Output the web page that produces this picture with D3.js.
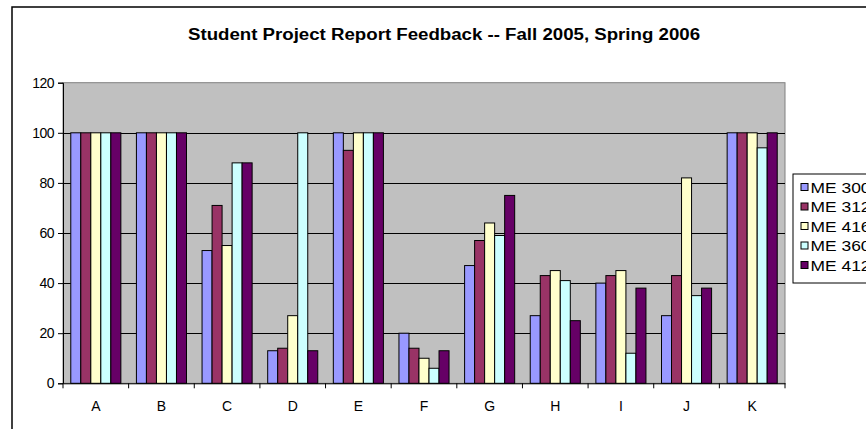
<!DOCTYPE html>
<html>
<head>
<meta charset="utf-8">
<script src="https://cdn.jsdelivr.net/npm/d3@7"></script>
<style>
html,body{margin:0;padding:0;background:#fff;overflow:hidden;}
svg{display:block;font-family:"Liberation Sans",Arial,sans-serif;}
</style>
</head>
<body>
<svg id="chart" width="866" height="429"></svg>
<script>
const categories = ["A","B","C","D","E","F","G","H","I","J","K"];
const seriesNames = ["ME 300","ME 312","ME 416","ME 360","ME 412"];
const me300 = [100,100,53,13,100,20,47,27,40,27,100];
const me312 = [100,100,71,14,93,14,57,43,43,43,100];
const me416 = [100,100,55,27,100,10,64,45,45,82,100];
const me360 = [100,100,88,100,100,6,59,41,12,35,94];
const me412 = [100,100,88,13,100,13,75,25,38,38,100];
const colors = ["#9999FF","#993366","#FFFFCC","#CCFFFF","#660066"];
const yTicks = [0,20,40,60,80,100,120];
const title = "Student Project Report Feedback -- Fall 2005, Spring 2006";

const seriesValues = [me300, me312, me416, me360, me412];

const svg = d3.select("#chart");
const plot = {left:63, right:785, top:82.7, bottom:383.3};

// outer chart frame
svg.append("rect").attr("x",12).attr("y",7).attr("width",900).attr("height",460)
  .attr("fill","#fff").attr("stroke","#000").attr("stroke-width",1.5);

const x = d3.scaleBand().domain(categories).range([plot.left, plot.right]).paddingInner(0.237).paddingOuter(0.1185);
const xs = d3.scaleBand().domain(seriesNames).range([0, x.bandwidth()]);
const y = d3.scaleLinear().domain([0,120]).range([plot.bottom, plot.top]);

// plot area
svg.append("rect").attr("x",plot.left).attr("y",plot.top)
  .attr("width",plot.right-plot.left).attr("height",plot.bottom-plot.top)
  .attr("fill","#C0C0C0").attr("stroke","#808080").attr("stroke-width",1);

// gridlines
svg.append("g").selectAll("line").data(yTicks.filter(d=>d>0 && d<120)).join("line")
  .attr("x1",plot.left).attr("x2",plot.right)
  .attr("y1",d=>Math.round(y(d))+0.5).attr("y2",d=>Math.round(y(d))+0.5)
  .attr("stroke","#000").attr("stroke-width",1);

// bars
const groups = svg.append("g").selectAll("g").data(seriesNames).join("g")
  .attr("fill",(d,i)=>colors[i]);
groups.each(function(name, si){
  d3.select(this).selectAll("rect").data(categories).join("rect")
    .attr("x",c=>x(c)+xs(name))
    .attr("y",(c,ci)=>y(seriesValues[si][ci]))
    .attr("width",xs.bandwidth())
    .attr("height",(c,ci)=>plot.bottom-y(seriesValues[si][ci]))
    .attr("stroke","#000").attr("stroke-width",1);
});

// y axis
const yAxis = d3.axisLeft(y).tickValues(yTicks).tickSize(5).tickPadding(4);
const gy = svg.append("g").attr("transform",`translate(${plot.left},0)`).call(yAxis);
gy.select(".domain").attr("stroke","#000");
gy.selectAll(".tick line").attr("stroke","#000");
gy.selectAll("text").attr("font-size",14).attr("fill","#000").attr("letter-spacing",-0.5)
  .attr("font-family","Liberation Sans, Arial, sans-serif");

// x axis
const xAxis = d3.axisBottom(x).tickSize(0).tickPadding(18);
const gx = svg.append("g").attr("transform",`translate(0,${plot.bottom})`).call(xAxis);
gx.select(".domain").attr("stroke","#000");
gx.selectAll("text").attr("font-size",14).attr("fill","#000").attr("font-family","Liberation Sans, Arial, sans-serif");
// category separator ticks
const seps = d3.range(categories.length+1).map(i=>plot.left + i*(plot.right-plot.left)/categories.length);
gx.append("g").selectAll("line").data(seps).join("line")
  .attr("x1",d=>d).attr("x2",d=>d).attr("y1",0).attr("y2",5).attr("stroke","#000");

// title
svg.append("text").attr("x",444).attr("y",40).attr("text-anchor","middle")
  .attr("font-size",16).attr("font-weight","bold").attr("fill","#000")
  .attr("textLength",512).attr("lengthAdjust","spacingAndGlyphs").text(title);

// legend
const lg = svg.append("g").attr("transform","translate(793,174)");
lg.append("rect").attr("x",0).attr("y",0).attr("width",100).attr("height",109)
  .attr("fill","#fff").attr("stroke","#000");
const items = lg.selectAll("g.item").data(seriesNames).join("g").attr("class","item")
  .attr("transform",(d,i)=>`translate(8,${13+i*19.5})`);
items.append("rect").attr("x",0).attr("y",-3.5).attr("width",7).attr("height",7)
  .attr("fill",(d,i)=>colors[i]).attr("stroke","#000");
items.append("text").attr("x",9.5).attr("y",5.5).attr("font-size",15).attr("fill","#000")
  .attr("textLength",60).attr("lengthAdjust","spacingAndGlyphs").text(d=>d);
</script>
</body>
</html>
